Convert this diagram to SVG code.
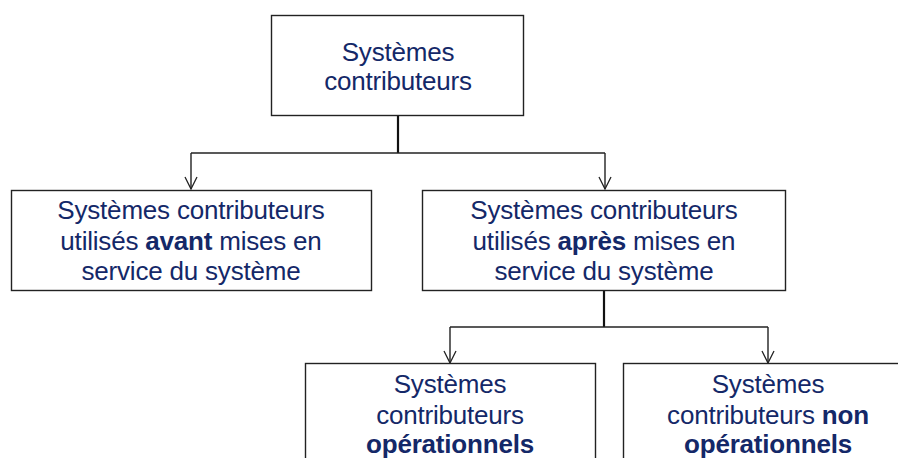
<svg xmlns="http://www.w3.org/2000/svg" width="898" height="458" viewBox="0 0 898 458">
<defs>
<marker id="arr" viewBox="0 0 14 14" refX="13" refY="7" markerWidth="14" markerHeight="14" markerUnits="userSpaceOnUse" orient="auto">
<path d="M1,1 L13,7 L1,13" fill="none" stroke="#222" stroke-width="1.3"/>
</marker>
</defs>
<style>
.box{fill:#fff;stroke:#222;stroke-width:1.4}
.t{font-family:"Liberation Sans",Arial,sans-serif;font-size:26px;fill:#142868;text-anchor:middle;letter-spacing:-0.2px}
.b{font-weight:bold}
.c{fill:none;stroke:#222;stroke-width:1.4}
.s{fill:none;stroke:#111;stroke-width:2.2}
</style>
<rect width="898" height="458" fill="#fff"/>
<g id="connectors">
<line class="s" x1="398" y1="116" x2="398" y2="153"/>
<path class="c" d="M191,153 H605"/>
<line class="c" x1="191" y1="153" x2="191" y2="189" marker-end="url(#arr)"/>
<line class="c" x1="605" y1="153" x2="605" y2="189" marker-end="url(#arr)"/>
<line class="s" x1="604" y1="291" x2="604" y2="327"/>
<path class="c" d="M450,327 H768"/>
<line class="c" x1="450" y1="327" x2="450" y2="363" marker-end="url(#arr)"/>
<line class="c" x1="768" y1="327" x2="768" y2="363" marker-end="url(#arr)"/>
</g>
<g id="root">
<rect class="box" x="271.5" y="15.5" width="252" height="100"/>
<text class="t" x="398" y="61">Systèmes</text>
<text class="t" x="398" y="90">contributeurs</text>
</g>
<g id="avant">
<rect class="box" x="11.5" y="190.5" width="360" height="100"/>
<text class="t" x="191" y="219">Systèmes contributeurs</text>
<text class="t" x="191" y="250">utilisés <tspan class="b">avant</tspan> mises en</text>
<text class="t" x="191" y="280">service du système</text>
</g>
<g id="apres">
<rect class="box" x="422.5" y="190.5" width="363" height="100"/>
<text class="t" x="604" y="219">Systèmes contributeurs</text>
<text class="t" x="604" y="250">utilisés <tspan class="b">après</tspan> mises en</text>
<text class="t" x="604" y="280">service du système</text>
</g>
<g id="operationnels">
<rect class="box" x="305.5" y="363.5" width="290" height="110"/>
<text class="t" x="450" y="393">Systèmes</text>
<text class="t" x="450" y="424">contributeurs</text>
<text class="t b" x="450" y="453">opérationnels</text>
</g>
<g id="non-operationnels">
<rect class="box" x="623.5" y="363.5" width="290" height="110"/>
<text class="t" x="768" y="393">Systèmes</text>
<text class="t" x="768" y="424">contributeurs <tspan class="b">non</tspan></text>
<text class="t b" x="768" y="453">opérationnels</text>
</g>
</svg>
